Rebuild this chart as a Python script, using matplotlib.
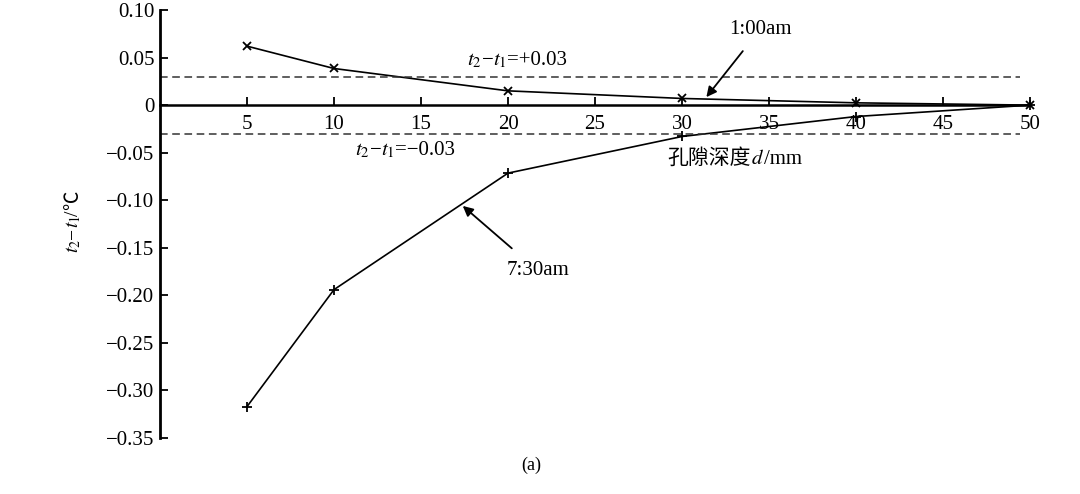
import matplotlib.pyplot as plt
from matplotlib.ticker import FuncFormatter
from matplotlib.transforms import IdentityTransform

plt.rcParams['font.family'] = ['Liberation Serif', 'Noto Sans CJK SC']
plt.rcParams['mathtext.fontset'] = 'stix'

# data
depth = [5, 10, 20, 30, 40, 50]
night = [0.062, 0.0385, 0.015, 0.007, 0.0024, 0.0]      # 1:00am
morning = [-0.317, -0.194, -0.0715, -0.033, -0.012, 0.0]  # 7:30am
xticks = [5, 10, 15, 20, 25, 30, 35, 40, 45, 50]
yticks = [0.10, 0.05, 0, -0.05, -0.10, -0.15, -0.20, -0.25, -0.30, -0.35]
limit = 0.03

fig = plt.figure(figsize=(10.8, 4.94), dpi=100)
ax = fig.add_axes([160 / 1080, 56 / 494, 887.4 / 1080, 428 / 494])
renderer = fig.canvas.get_renderer()


def rich(px, py, pieces, size, rotation=0):
    # put text pieces one after another, centred on pixel (px, py) from top-left
    arts = []
    widths = []
    for s, kw in pieces:
        t = fig.text(0, 0, s, fontsize=size, rotation=rotation, rotation_mode='anchor',
                     ha='left', va='baseline', transform=IdentityTransform(), **kw)
        bb = t.get_window_extent(renderer)
        widths.append(bb.width if rotation == 0 else bb.height)
        arts.append(t)
    total = sum(widths)
    cx, cy = px, 494 - py
    drop = size * 100 / 72 * 0.33
    pos = -total / 2
    for t, w in zip(arts, widths):
        if rotation == 0:
            t.set_position((cx + pos, cy - drop))
        else:
            t.set_position((cx + drop, cy + pos))
        pos += w


ax.plot(depth, night, 'k-', lw=1.2, marker='x', ms=6, mew=1.3)
ax.plot(depth, morning, 'k-', lw=1.2, marker='+', ms=7, mew=1.3)

# threshold lines
ax.plot([0, 49.4], [limit, limit], color='#333333', ls=(0, (5, 3)), lw=1.1)
ax.plot([0, 49.4], [-limit, -limit], color='#333333', ls=(0, (5, 3)), lw=1.1)

ax.set_xlim(0, 51)
ax.set_ylim(-0.35, 0.10)

for s in ['top', 'right']:
    ax.spines[s].set_visible(False)
ax.spines['bottom'].set_position(('data', 0))
ax.spines['bottom'].set_bounds(0, 50)
ax.spines['bottom'].set_linewidth(1.8)
ax.spines['left'].set_linewidth(2.0)

ax.set_xticks(xticks)
ax.set_yticks(yticks)
ax.yaxis.set_major_formatter(FuncFormatter(lambda v, p: '0' if abs(v) < 1e-9 else ('%.2f' % v).replace('-', '\u2212')))
ax.tick_params(axis='x', direction='in', length=6, width=1.3, labelsize=15, pad=7)
ax.tick_params(axis='y', direction='in', length=6, width=1.3, labelsize=15, pad=4)

serif = {}
cjk = {'family': ['Noto Sans CJK SC']}
rich(517, 58, [('$t_2$', serif), ('\u2212', serif), ('$t_1$', serif), ('=+0.03', serif)], 15)
rich(405, 148, [('$t_2$', serif), ('\u2212', serif), ('$t_1$', serif), ('=\u22120.03', serif)], 15)
rich(735, 157, [('孔隙深度', cjk), ('$d$', serif), ('/mm', serif)], 15)
rich(72, 222, [('$t_2$', serif), ('\u2212', serif), ('$t_1$', serif), ('/', serif), ('\u2103', cjk)], 14, rotation=90)

ax.annotate('1:00am', xy=(31.4, 0.0084), xytext=(34.5, 0.080), fontsize=15,
            ha='center', va='center',
            arrowprops=dict(arrowstyle='-|>', color='k', lw=1.3, shrinkA=9, shrinkB=0))
ax.annotate('7:30am', xy=(17.4, -0.106), xytext=(21.7, -0.174), fontsize=15,
            ha='center', va='center',
            arrowprops=dict(arrowstyle='-|>', color='k', lw=1.3, shrinkA=11, shrinkB=0))

fig.text(531 / 1080, 1 - 465 / 494, '(a)', fontsize=13, ha='center', va='center')

fig.savefig('out.png', dpi=100)
